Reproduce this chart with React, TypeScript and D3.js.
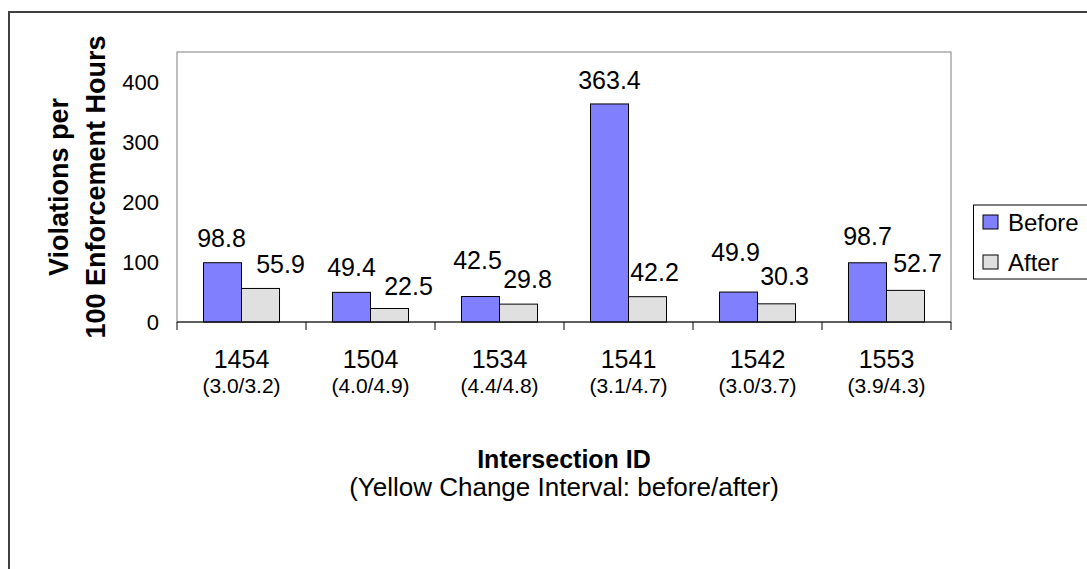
import React from "react";
import * as d3 from "d3";

const categories = ["1454", "1504", "1534", "1541", "1542", "1553"];
const intervals = ["(3.0/3.2)", "(4.0/4.9)", "(4.4/4.8)", "(3.1/4.7)", "(3.0/3.7)", "(3.9/4.3)"];
const series = ["Before", "After"];
const beforeValues = [98.8, 49.4, 42.5, 363.4, 49.9, 98.7];
const afterValues = [55.9, 22.5, 29.8, 42.2, 30.3, 52.7];
const yTicks = [0, 100, 200, 300, 400];

// manual nudges of the data labels (as placed in the original)
const beforeLabelDx = [-1, 0, -3, 0, -3, 0];
const beforeLabelDy = [0, 0, -12, 1, -15, -2];
const afterLabelDx = [20, 19, 9, 7, 8, 12];
const afterLabelDy = [1, 2, 0, 0, -3, -2];

const colors: Record<string, string> = { Before: "#8080FF", After: "#E0E0E0" };
const FONT = "Arial, 'Liberation Sans', Helvetica, sans-serif";

export default function App() {
  const W = 1087, H = 569;
  const left = 177, right = 951, top = 52, bottom = 322;

  const x0 = d3.scaleBand<string>().domain(categories).range([left, right]).padding(0);
  const x1 = d3
    .scaleBand<string>()
    .domain(series)
    .range([0, x0.bandwidth()])
    .paddingInner(0)
    .paddingOuter(0.697);
  const y = d3.scaleLinear().domain([0, 450]).range([bottom, top]);

  const valuesFor = (s: string) => (s === "Before" ? beforeValues : afterValues);
  const dxFor = (s: string) => (s === "Before" ? beforeLabelDx : afterLabelDx);
  const dyFor = (s: string) => (s === "Before" ? beforeLabelDy : afterLabelDy);

  const tickXs = [...categories.map((c) => x0(c)!), right];
  const cx = (left + right) / 2;
  const cy = (top + bottom) / 2;

  return (
    <svg
      width={W}
      height={H}
      style={{ position: "absolute", left: 0, top: 0, background: "#fff" }}
      fontFamily={FONT}
    >
      <rect x={0} y={0} width={W} height={H} fill="#fff" />
      {/* outer chart border */}
      <rect x={9} y={12} width={1300} height={800} fill="none" stroke="#404040" strokeWidth={2} />

      {/* plot area border */}
      <rect x={left} y={top} width={right - left} height={bottom - top} fill="none" stroke="#808080" strokeWidth={1} />

      {/* y tick labels */}
      {yTicks.map((t) => (
        <text key={t} x={159} y={y(t) + 8} fontSize={22} textAnchor="end" fill="#000">
          {t}
        </text>
      ))}

      {/* bars */}
      {categories.map((c, i) =>
        series.map((s) => {
          const v = valuesFor(s)[i];
          const bx = x0(c)! + x1(s)!;
          return (
            <rect
              key={c + s}
              x={bx}
              y={y(v)}
              width={x1.bandwidth()}
              height={y(0) - y(v)}
              fill={colors[s]}
              stroke="#000"
              strokeWidth={1}
            />
          );
        })
      )}

      {/* x axis line & ticks */}
      <line x1={left} x2={right} y1={bottom} y2={bottom} stroke="#000" strokeWidth={1} />
      {tickXs.map((tx, i) => (
        <line key={i} x1={tx} x2={tx} y1={bottom} y2={bottom + 8} stroke="#000" strokeWidth={1} />
      ))}

      {/* data labels */}
      {categories.map((c, i) =>
        series.map((s) => {
          const v = valuesFor(s)[i];
          const bx = x0(c)! + x1(s)! + x1.bandwidth() / 2;
          return (
            <text
              key={"l" + c + s}
              x={bx + dxFor(s)[i]}
              y={y(v) - 16 + dyFor(s)[i]}
              fontSize={25}
              textAnchor="middle"
              fill="#000"
            >
              {v.toFixed(1)}
            </text>
          );
        })
      )}

      {/* category labels */}
      {categories.map((c, i) => {
        const mx = x0(c)! + x0.bandwidth() / 2;
        return (
          <g key={"c" + c}>
            <text x={mx} y={368} fontSize={25} textAnchor="middle" fill="#000">
              {c}
            </text>
            <text x={mx} y={393} fontSize={21} textAnchor="middle" fill="#000">
              {intervals[i]}
            </text>
          </g>
        );
      })}

      {/* x axis title */}
      <text x={cx} y={468} fontSize={25} fontWeight="bold" textAnchor="middle" fill="#000">
        Intersection ID
      </text>
      <text x={cx} y={496} fontSize={26} textAnchor="middle" fill="#000">
        (Yellow Change Interval: before/after)
      </text>

      {/* y axis title */}
      <g transform={`translate(0, ${cy}) rotate(-90)`}>
        <text x={0} y={67.5} fontSize={27} fontWeight="bold" textAnchor="middle" fill="#000">
          Violations per
        </text>
        <text x={0} y={105} fontSize={27} fontWeight="bold" textAnchor="middle" fill="#000">
          100 Enforcement Hours
        </text>
      </g>

      {/* legend */}
      <rect x={973.5} y={205} width={200} height={74} fill="#fff" stroke="#000" strokeWidth={1} />
      {series.map((s, i) => (
        <g key={"lg" + s} transform={`translate(983, ${215 + i * 40})`}>
          <rect x={0} y={0} width={15} height={14} fill={colors[s]} stroke="#000" strokeWidth={1} />
          <text x={25} y={16} fontSize={24} fill="#000">
            {s}
          </text>
        </g>
      ))}
    </svg>
  );
}
